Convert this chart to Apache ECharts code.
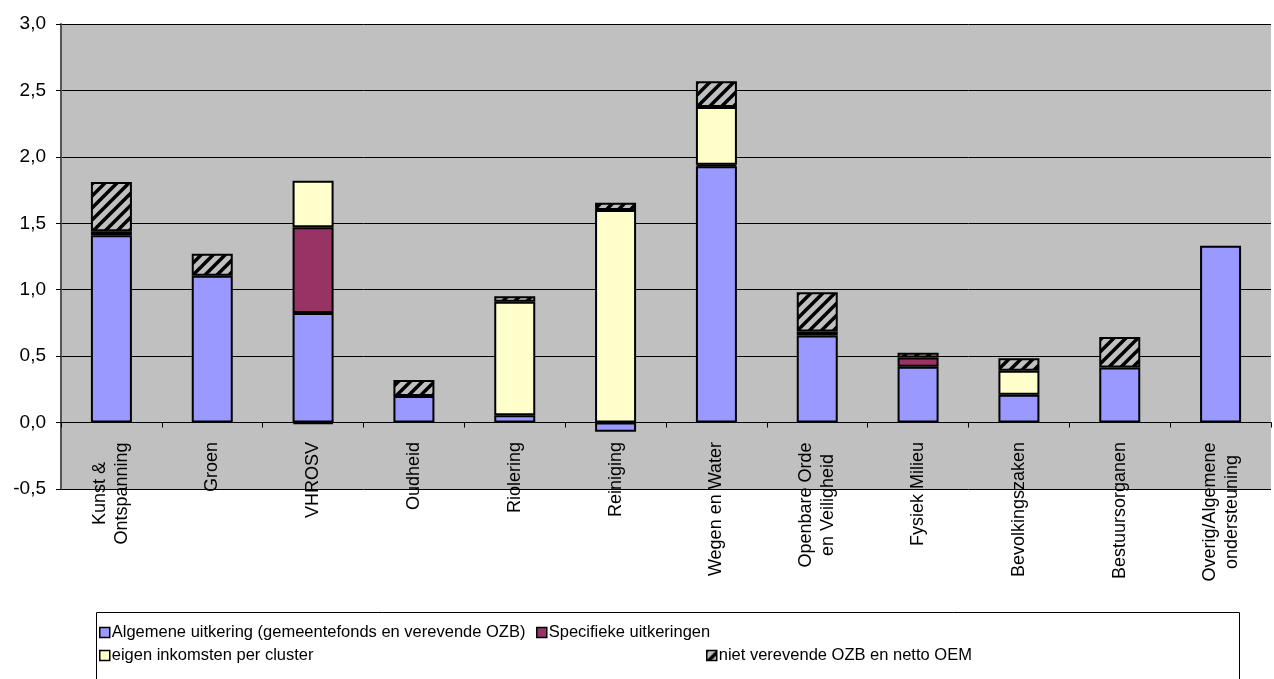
<!DOCTYPE html>
<html>
<head>
<meta charset="utf-8">
<script src="https://cdn.jsdelivr.net/npm/echarts@6/dist/echarts.min.js"></script>
<style>
  html, body { margin: 0; padding: 0; background: #fff; }
  #chart { width: 1274px; height: 679px; }
</style>
</head>
<body>
<div id="chart"></div>
<script>
// Clusters on the category axis
const categories = [
  'Kunst &\nOntspanning', 'Groen', 'VHROSV', 'Oudheid', 'Riolering', 'Reiniging',
  'Wegen en Water', 'Openbare Orde\nen Veiligheid', 'Fysiek Milieu',
  'Bevolkingszaken', 'Bestuursorganen', 'Overig/Algemene\nondersteuning'
];

// Series names
const seriesNames = [
  'Algemene uitkering (gemeentefonds en verevende OZB)',
  'Specifieke uitkeringen',
  'eigen inkomsten per cluster',
  'niet verevende OZB en netto OEM'
];

// Stacked values per cluster (null = no segment)
const algemeneUitkering = [1.41, 1.105, 0.825, 0.20, 0.055, -0.07, 1.93, 0.655, 0.42, 0.21, 0.415, 1.33];
const specifiekeUitkeringen = [0.03, null, 0.645, null, null, null, 0.01, 0.03, 0.07, null, null, null];
const eigenInkomsten = [null, null, 0.35, null, 0.855, 1.60, 0.435, null, null, 0.18, null, null];
const nietVerevendeOZB = [0.37, 0.165, -0.01, 0.12, 0.04, 0.055, 0.195, 0.295, 0.035, 0.095, 0.23, null];

// Value axis range
const yMin = -0.5, yMax = 3.0, yStep = 0.5;

const FONT = '"Liberation Sans", Arial, sans-serif';

// Diagonal hatch fill for the last series
function makeHatch() {
  const s = 12;
  const c = document.createElement('canvas');
  c.width = s; c.height = s;
  const ctx = c.getContext('2d');
  ctx.fillStyle = '#c0c0c0';
  ctx.fillRect(0, 0, s, s);
  ctx.strokeStyle = '#000';
  ctx.lineWidth = 3.5;
  ctx.beginPath();
  for (const o of [-s, 0, s]) {
    ctx.moveTo(o - 2, s + 2); ctx.lineTo(o + s + 2, -2);
  }
  ctx.stroke();
  return c;
}
const hatch = { image: makeHatch(), repeat: 'repeat' };

// Multi-line category labels: centre each line within its block
const LABEL_SIZE = 18;
const measure = document.createElement('canvas').getContext('2d');
measure.font = LABEL_SIZE + 'px ' + FONT;
const rich = {};
categories.forEach((c, i) => {
  const lines = c.split('\n');
  if (lines.length > 1) {
    const w = Math.max(...lines.map(l => measure.measureText(l).width));
    rich['c' + i] = { width: Math.ceil(w), align: 'center', fontSize: LABEL_SIZE,
      fontFamily: FONT, color: '#000', lineHeight: 22 };
  }
});

const colors = ['#9999ff', '#993366', '#ffffcc', hatch];
const data = [algemeneUitkering, specifiekeUitkeringen, eigenInkomsten, nietVerevendeOZB];

const chart = echarts.init(document.getElementById('chart'), null, { renderer: 'canvas' });

const legendPos = [
  { left: 99, top: 624 },
  { left: 536, top: 624 },
  { left: 99, top: 647 },
  { left: 706, top: 647 }
];

chart.setOption({
  animation: false,
  backgroundColor: '#fff',
  textStyle: { fontFamily: FONT },
  grid: {
    left: 61, right: 3, top: 24, bottom: 190,
    show: true, backgroundColor: '#c0c0c0', borderWidth: 0
  },
  graphic: [{
    type: 'rect', z: -1,
    shape: { x: 96.5, y: 612.5, width: 1143, height: 70 },
    style: { fill: '#fff', stroke: '#000', lineWidth: 1 }
  }],
  legend: seriesNames.map((n, i) => ({
    data: [n],
    left: legendPos[i].left, top: legendPos[i].top,
    orient: 'horizontal',
    icon: 'rect', itemWidth: 10, itemHeight: 10, itemGap: 4,
    padding: 0,
    selectedMode: false,
    itemStyle: { borderColor: '#000', borderWidth: 1.5 },
    textStyle: { fontSize: 16.5, color: '#000', padding: [0, 0, 0, -3], fontFamily: FONT }
  })),
  xAxis: {
    type: 'category',
    data: categories,
    axisLine: { onZero: true, lineStyle: { color: '#000', width: 1 } },
    axisTick: { show: true, length: 5, lineStyle: { color: '#000' } },
    axisLabel: {
      rotate: 90, interval: 0, margin: -47, fontSize: LABEL_SIZE, color: '#000',
      lineHeight: 22,
      formatter: (v, i) => {
        const lines = v.split('\n');
        if (lines.length === 1) return v;
        return lines.map(l => '{c' + i + '|' + l + '}').join('\n');
      },
      rich: rich
    }
  },
  yAxis: {
    type: 'value',
    min: yMin, max: yMax, interval: yStep,
    axisLine: { show: true, lineStyle: { color: '#555', width: 2 } },
    axisTick: { show: true, length: 5, lineStyle: { color: '#000' } },
    splitLine: { show: true, lineStyle: { color: '#000', width: 1 } },
    axisLabel: {
      fontSize: 19, color: '#000', margin: 15,
      formatter: v => v.toFixed(1).replace('.', ',')
    }
  },
  series: seriesNames.map((n, i) => ({
    name: n,
    type: 'bar',
    stack: 'total',
    barWidth: 41,
    data: data[i],
    itemStyle: { color: colors[i], borderColor: '#000', borderWidth: 2 },
    emphasis: { disabled: true }
  }))
});
</script>
</body>
</html>
